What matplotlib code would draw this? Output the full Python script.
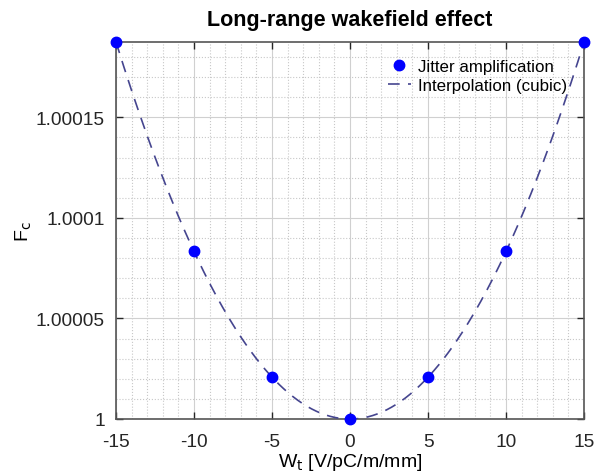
import matplotlib.pyplot as plt
import numpy as np
from matplotlib.ticker import MultipleLocator, FixedLocator, FixedFormatter

plt.rcParams['font.family'] = ['Liberation Sans', 'DejaVu Sans']
plt.rcParams['axes.unicode_minus'] = False

# data
wt = [-15, -10, -5, 0, 5, 10, 15]
fc = [1.0001875, 1.0000833, 1.0000208, 1.0, 1.0000208, 1.0000833, 1.0001875]

yticks = [1.0, 1.00005, 1.0001, 1.00015]
ytick_labels = ['1', '1.00005', '1.0001', '1.00015']

# cubic interpolation curve through the points
coef = np.polyfit(wt, np.array(fc) - 1.0, 3)
xs = np.linspace(min(wt), max(wt), 300)
ys = np.polyval(coef, xs) + 1.0

fig = plt.figure(figsize=(5.96, 4.77), dpi=100)
ax = fig.add_axes([0.1946, 0.1195, 0.7854, 0.7906])

ax.plot(xs, ys, linestyle=(0, (7, 5)), color='#45458f', linewidth=1.2,
        label='Interpolation (cubic)', zorder=3)
ax.plot(wt, fc, 'o', color='#0000ff', markersize=7.5, linestyle='none',
        label='Jitter amplification', clip_on=False, zorder=4)

ax.set_xlim(-15, 15)
ax.set_ylim(1.0, max(fc))
ax.xaxis.set_major_locator(MultipleLocator(5))
ax.xaxis.set_minor_locator(MultipleLocator(1))
ax.yaxis.set_major_locator(FixedLocator(yticks))
ax.yaxis.set_major_formatter(FixedFormatter(ytick_labels))
ax.yaxis.set_minor_locator(MultipleLocator(0.00001))

ax.grid(which='major', color='#d0d0d0', linewidth=0.8)
ax.grid(which='minor', color='#c8c8c8', linestyle=':', linewidth=0.8)
ax.set_axisbelow(True)

ax.tick_params(which='both', direction='in', top=True, right=True,
               labelsize=13.8, colors='#262626')
ax.tick_params(axis='x', pad=10)
ax.tick_params(axis='y', pad=8)
ax.tick_params(which='major', length=5, width=1)
ax.tick_params(which='minor', length=0)
for s in ax.spines.values():
    s.set_color('#555555')
    s.set_linewidth(1.2)

ax.set_title('Long-range wakefield effect', fontsize=15.5, fontweight='bold', pad=12)
ax.set_xlabel('W$_\\mathrm{t}$ [V/pC/m/mm]', fontsize=14, labelpad=1)
ax.set_ylabel('F$_\\mathrm{c}$', fontsize=14, labelpad=1)

h, l = ax.get_legend_handles_labels()
ax.legend(h[::-1], l[::-1], loc='upper right', frameon=False, fontsize=12.2,
          handlelength=1.4, borderaxespad=0.6, labelspacing=0.25, handletextpad=0.4,
          bbox_to_anchor=(1.0, 1.0))

fig.savefig('out.png', dpi=100)
